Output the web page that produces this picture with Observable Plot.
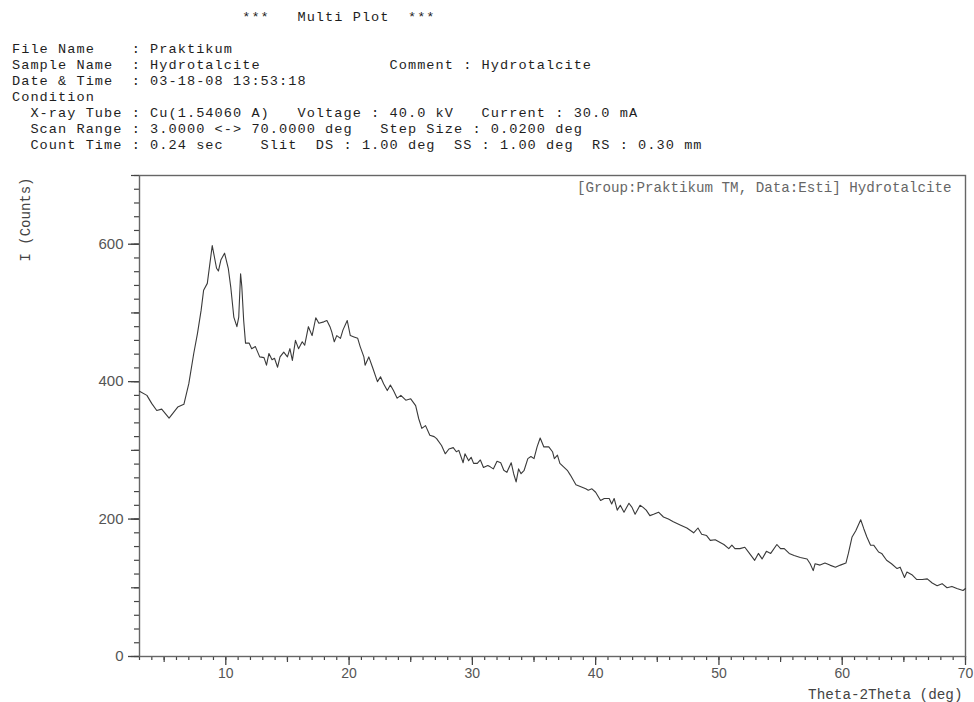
<!DOCTYPE html>
<html>
<head>
<meta charset="utf-8">
<script src="https://cdn.jsdelivr.net/npm/d3@7"></script>
<script src="https://cdn.jsdelivr.net/npm/@observablehq/plot@0.6"></script>
<style>
  body { margin: 0; background: #fff; }
  #page { position: relative; width: 974px; height: 702px; overflow: hidden; background: #fff; }
  .hl { position: absolute; left: 12px; font-family: "Liberation Mono", monospace; font-size: 13.6px; letter-spacing: 1.05px; line-height: 15px; height: 15px; white-space: pre; color: #1e1e1e; }
  #chart { position: absolute; left: 0; top: 160px; }
</style>
</head>
<body>
<div id="page">
  <div class="hl" style="top:10px">                         ***   Multi Plot  ***</div>
  <div class="hl" style="top:42px">File Name    : Praktikum</div>
  <div class="hl" style="top:58px">Sample Name  : Hydrotalcite              Comment : Hydrotalcite</div>
  <div class="hl" style="top:74px">Date &amp; Time  : 03-18-08 13:53:18</div>
  <div class="hl" style="top:90px">Condition</div>
  <div class="hl" style="top:106px">  X-ray Tube : Cu(1.54060 A)   Voltage : 40.0 kV   Current : 30.0 mA</div>
  <div class="hl" style="top:122px">  Scan Range : 3.0000 &lt;-&gt; 70.0000 deg   Step Size : 0.0200 deg</div>
  <div class="hl" style="top:138px">  Count Time : 0.24 sec    Slit  DS : 1.00 deg  SS : 1.00 deg  RS : 0.30 mm</div>
  <div id="chart"></div>
</div>
<script>
// 2-theta angle (deg) and intensity (counts)
const twoTheta = [3.0,3.6,4.0,4.4,4.8,5.4,6.1,6.6,7.0,7.4,7.7,8.0,8.2,8.5,8.9,9.25,9.4,9.6,9.9,10.2,10.4,10.65,10.9,11.05,11.2,11.3,11.45,11.6,11.9,12.1,12.4,12.75,13.1,13.3,13.5,13.75,13.95,14.2,14.4,14.7,15.0,15.2,15.4,15.65,15.9,16.2,16.4,16.7,17.0,17.3,17.55,17.95,18.2,18.45,18.6,18.8,19.0,19.3,19.5,19.85,20.1,20.4,20.7,20.9,21.2,21.3,21.6,21.9,22.3,22.55,22.8,23.1,23.35,23.6,23.9,24.2,24.6,25.0,25.4,25.65,25.9,26.2,26.55,26.9,27.1,27.5,27.8,28.1,28.45,28.7,28.9,29.25,29.4,29.7,29.9,30.1,30.4,30.65,30.9,31.25,31.45,31.7,32.0,32.3,32.55,32.8,33.15,33.35,33.55,33.75,33.95,34.2,34.5,34.75,35.0,35.25,35.5,35.8,36.2,36.5,36.65,36.9,37.1,37.4,37.7,37.95,38.4,38.8,39.2,39.4,39.7,40.0,40.4,40.7,41.1,41.3,41.5,41.75,42.0,42.3,42.7,42.95,43.2,43.6,43.85,44.1,44.4,44.7,45.1,45.5,45.9,46.3,46.9,47.4,47.95,48.3,48.6,49.0,49.3,49.7,50.1,50.4,50.8,51.05,51.3,51.7,52.1,52.4,52.9,53.2,53.5,53.85,54.2,54.7,55.0,55.3,55.7,56.1,56.6,57.15,57.4,57.65,57.8,58.2,58.6,59.0,59.45,59.85,60.3,60.5,60.8,61.1,61.5,61.75,62.0,62.3,62.55,62.95,63.2,63.6,64.0,64.45,64.7,65.05,65.25,65.65,66.05,66.5,66.9,67.3,67.7,68.1,68.5,68.9,69.3,69.8,70.0];
const counts = [386,380,368,358,360,347,363,367,397,441,470,504,533,543,598,565,561,577,587,565,538,494,480,494,557,538,489,456,456,448,451,436,435,424,441,432,434,421,436,443,436,448,431,460,448,458,453,480,467,493,485,487,489,480,472,458,467,463,475,489,467,465,463,451,436,424,436,421,400,407,397,387,395,387,376,380,373,375,365,346,332,336,322,320,317,307,295,302,304,298,300,282,295,285,290,281,281,286,275,278,276,273,284,282,271,268,282,266,254,273,266,271,288,291,288,305,318,305,305,298,288,293,281,276,271,264,250,247,244,242,244,239,227,230,230,222,230,213,220,210,223,217,207,220,217,213,205,207,210,203,200,196,191,187,180,187,178,176,169,170,166,163,157,162,157,157,159,152,140,150,142,153,150,163,157,157,150,147,144,142,135,125,135,133,136,133,130,133,136,150,174,183,199,186,174,162,162,152,150,140,135,128,130,115,123,119,112,112,113,107,103,106,100,102,99,96,99];

const xTickLabels = [10, 20, 30, 40, 50, 60, 70];
const yTickLabels = [0, 200, 400, 600];
const xLabel = "Theta-2Theta (deg)";
const yLabel = "I (Counts)";
const note = "[Group:Praktikum TM, Data:Esti] Hydrotalcite";

const rows = twoTheta.map((d, i) => ({deg: d, count: counts[i]}));
const noLabel = () => "";

const chart = Plot.plot({
  width: 974,
  height: 542,
  marginTop: 15,
  marginLeft: 139,
  marginRight: 9,
  marginBottom: 46,
  style: {background: "#fff", color: "#444", fontFamily: "Liberation Sans, Arial, sans-serif", fontSize: "14px"},
  x: {domain: [3, 70], label: null},
  y: {domain: [0, 700], label: null},
  marks: [
    Plot.axisX(d3.range(3, 71, 1), {tickSize: 4, tickFormat: noLabel, label: null, strokeWidth: 1.2, stroke: "#444"}),
    Plot.axisX([5, 15, 25, 35, 45, 55, 65], {tickSize: 6, tickFormat: noLabel, label: null, strokeWidth: 1.2, stroke: "#444"}),
    Plot.axisX(xTickLabels, {tickSize: 9, tickPadding: 3, fontSize: 14, fill: "#555", label: null, strokeWidth: 1.3, stroke: "#444"}),
    Plot.axisY(d3.range(0, 701, 20), {tickSize: 5, tickFormat: noLabel, label: null, strokeWidth: 1.2, stroke: "#444"}),
    Plot.axisY(d3.range(0, 701, 100), {tickSize: 8, tickFormat: noLabel, label: null, strokeWidth: 1.2, stroke: "#444"}),
    Plot.axisY(yTickLabels, {tickSize: 11, tickPadding: 5, fontSize: 15, fill: "#555", label: null, strokeWidth: 1.3, stroke: "#444"}),
    Plot.frame({stroke: "#666", strokeWidth: 1.4}),
    Plot.line(rows, {x: "deg", y: "count", stroke: "#3a3a3a", strokeWidth: 1.1, strokeLinejoin: "round"}),
    Plot.text([note], {frameAnchor: "top-right", dx: -14, dy: 12, textAnchor: "end", lineAnchor: "middle", fontFamily: "Liberation Mono, monospace", fontSize: 14.2, fill: "#666"}),
    Plot.text([xLabel], {frameAnchor: "bottom-right", dx: -3, dy: 38, textAnchor: "end", lineAnchor: "middle", fontFamily: "Liberation Mono, monospace", fontSize: 14.3, fill: "#444"}),
    Plot.text([yLabel], {frameAnchor: "top-left", dx: -114, dy: 44, rotate: -90, textAnchor: "middle", lineAnchor: "middle", fontFamily: "Liberation Mono, monospace", fontSize: 14, fill: "#444"})
  ]
});
document.getElementById("chart").appendChild(chart);
</script>
</body>
</html>
